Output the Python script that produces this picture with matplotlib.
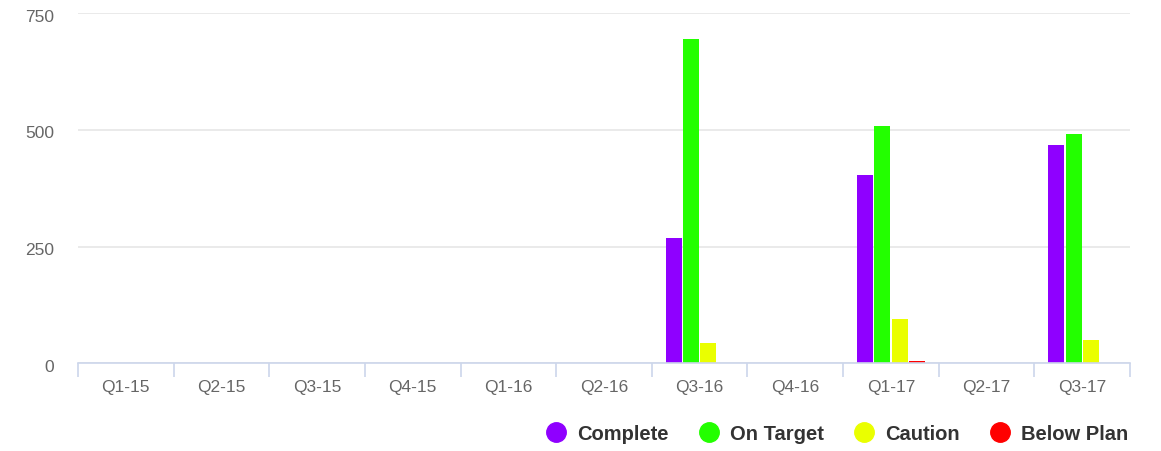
import matplotlib.pyplot as plt
import matplotlib.transforms as mtransforms
from matplotlib.lines import Line2D
import numpy as np

quarters = ['Q1-15', 'Q2-15', 'Q3-15', 'Q4-15', 'Q1-16', 'Q2-16',
            'Q3-16', 'Q4-16', 'Q1-17', 'Q2-17', 'Q3-17']
complete  = [0, 0, 0, 0, 0, 0, 269, 0, 403, 0, 468]
on_target = [0, 0, 0, 0, 0, 0, 696, 0, 508, 0, 491]
caution   = [0, 0, 0, 0, 0, 0, 43, 0, 94, 0, 50]
below     = [0, 0, 0, 0, 0, 0, 0, 0, 5, 0, 0]

series_names = ['Complete', 'On Target', 'Caution', 'Below Plan']
colors = ['#8f00ff', '#23ff00', '#eaff00', '#ff0000']
series = [complete, on_target, caution, below]

plt.rcParams['font.family'] = ['Liberation Sans', 'DejaVu Sans']

fig = plt.figure(figsize=(11.61, 4.51), dpi=100)
ax = fig.add_axes([78/1161, 1-363.3/451, (1130-78)/1161, (363.3-13.3)/451])

x = np.arange(len(quarters))
step = 0.181
width = 0.167
for i, (vals, col) in enumerate(zip(series, colors)):
    ax.bar(x + (i - 1.5)*step, vals, width=width, color=col, linewidth=0, zorder=2)

ax.set_xlim(-0.5, len(quarters) - 0.5)
ax.set_ylim(0, 750)
ax.set_yticks([0, 250, 500, 750])
ax.yaxis.grid(True, color='#e6e6e6', linewidth=1.2)
ax.set_axisbelow(True)
for s in ['left', 'right', 'top']:
    ax.spines[s].set_visible(False)
ax.spines['bottom'].set_color('#ccd6eb')
ax.spines['bottom'].set_linewidth(1.2)
ax.spines['bottom'].set_zorder(3)

ax.set_xticks(x)
ax.set_xticklabels(quarters)
ax.set_xticks(np.arange(len(quarters) + 1) - 0.5, minor=True)
ax.tick_params(axis='x', which='major', length=0, pad=12, labelsize=12.5, labelcolor='#666666')
ax.tick_params(axis='x', which='minor', length=10, width=1.2, color='#ccd6eb')
ax.tick_params(axis='y', length=0, pad=17, labelsize=12.5, labelcolor='#666666')
# nudge y labels slightly down like the original
shift = mtransforms.ScaledTranslation(0, -2.5/100, fig.dpi_scale_trans)
for lbl in ax.get_yticklabels():
    lbl.set_transform(lbl.get_transform() + shift)

handles = [Line2D([], [], marker='o', linestyle='', markersize=14, color=c) for c in colors]
leg = fig.legend(handles, series_names, ncol=4, loc='center right',
                 bbox_to_anchor=(1128/1161, 1-434/451), frameon=False,
                 handlelength=1.0, handletextpad=0.545, columnspacing=1.49,
                 borderpad=0, borderaxespad=0,
                 prop={'weight': 'bold', 'size': 14.5})
for t in leg.get_texts():
    t.set_color('#333333')

plt.savefig('out.png', dpi=100)
